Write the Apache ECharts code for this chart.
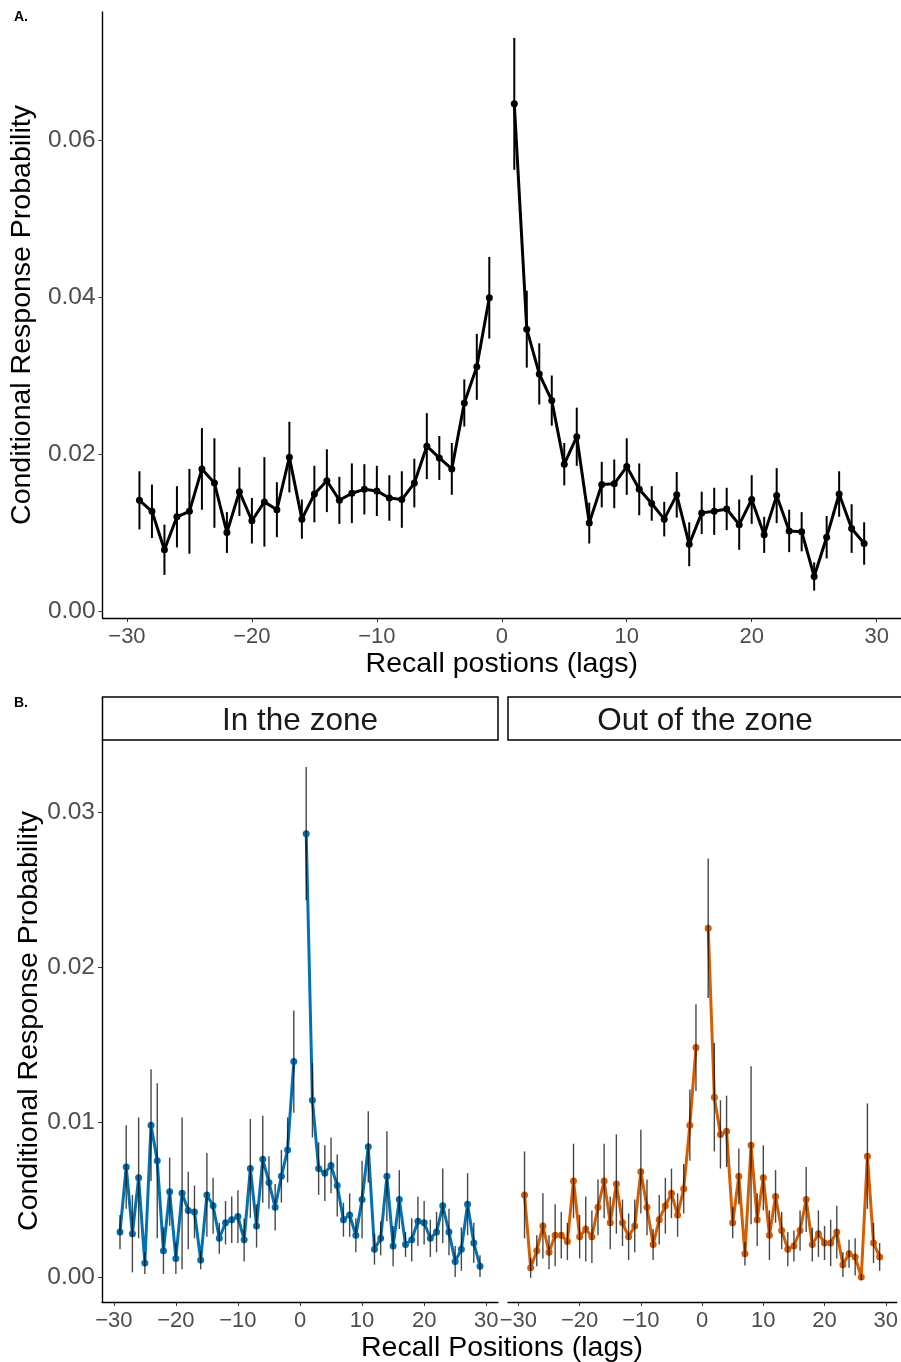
<!DOCTYPE html>
<html><head><meta charset="utf-8">
<script src="https://cdn.jsdelivr.net/npm/echarts@6/dist/echarts.min.js"></script>
<style>html,body{margin:0;padding:0;background:#fff}#c{width:901px;height:1362px}</style>
</head><body><div id="c"></div>
<script>
// ---- data ----
const lags = [-29,-28,-27,-26,-25,-24,-23,-22,-21,-20,-19,-18,-17,-16,-15,-14,-13,-12,-11,-10,-9,-8,-7,-6,-5,-4,-3,-2,-1,0,1,2,3,4,5,6,7,8,9,10,11,12,13,14,15,16,17,18,19,20,21,22,23,24,25,26,27,28,29];
const xTicks = [-30,-20,-10,0,10,20,30];
const yTicksA = [0,0.02,0.04,0.06];
const yTicksB = [0,0.01,0.02,0.03];

// Panel A: all trials
const crpAll = [0.0141,0.0127,0.0078,0.0120,0.0127,0.0181,0.0163,0.0100,0.0152,0.0115,0.0139,0.0129,0.0196,0.0117,0.0149,0.0166,0.0141,0.0150,0.0155,0.0153,0.0144,0.0142,0.0163,0.0210,0.0195,0.0181,0.0265,0.0311,0.0399,null,0.0646,0.0359,0.0302,0.0268,0.0187,0.0222,0.0112,0.0161,0.0162,0.0184,0.0155,0.0137,0.0117,0.0148,0.0085,0.0125,0.0127,0.0130,0.0110,0.0142,0.0097,0.0147,0.0102,0.0101,0.0044,0.0094,0.0149,0.0105,0.0086];
const seAll = [0.0037,0.0034,0.0032,0.0039,0.0054,0.0052,0.0057,0.0026,0.0031,0.0029,0.0057,0.0035,0.0045,0.0025,0.0036,0.0040,0.0030,0.0038,0.0032,0.0032,0.0029,0.0036,0.0031,0.0042,0.0028,0.0033,0.0030,0.0042,0.0052,null,0.0084,0.0049,0.0039,0.0032,0.0027,0.0037,0.0026,0.0029,0.0031,0.0036,0.0033,0.0022,0.0022,0.0029,0.0028,0.0027,0.0030,0.0027,0.0032,0.0031,0.0023,0.0035,0.0027,0.0025,0.0018,0.0027,0.0029,0.0031,0.0027];

// Panel B: in the zone
const crpIn = [0.0029,0.0071,0.0028,0.0064,0.0009,0.0098,0.0075,0.0017,0.0055,0.0012,0.0054,0.0043,0.0042,0.0011,0.0053,0.0046,0.0025,0.0035,0.0037,0.0039,0.0024,0.0070,0.0033,0.0076,0.0061,0.0045,0.0065,0.0082,0.0139,null,0.0286,0.0114,0.0070,0.0067,0.0072,0.0059,0.0037,0.0040,0.0027,0.0050,0.0084,0.0018,0.0025,0.0065,0.0020,0.0050,0.0021,0.0024,0.0036,0.0035,0.0025,0.0029,0.0046,0.0029,0.0010,0.0018,0.0047,0.0022,0.0007];
const seIn = [0.0011,0.0027,0.0025,0.0039,0.0007,0.0036,0.0050,0.0015,0.0022,0.0010,0.0049,0.0025,0.0017,0.0006,0.0027,0.0018,0.0010,0.0014,0.0015,0.0017,0.0014,0.0032,0.0014,0.0028,0.0017,0.0015,0.0017,0.0021,0.0033,null,0.0043,0.0024,0.0017,0.0018,0.0018,0.0020,0.0011,0.0014,0.0011,0.0025,0.0023,0.0010,0.0011,0.0029,0.0013,0.0019,0.0008,0.0014,0.0016,0.0014,0.0012,0.0013,0.0024,0.0015,0.0010,0.0014,0.0020,0.0013,0.0007];

// Panel B: out of the zone
const crpOut = [0.0053,0.0006,0.0017,0.0033,0.0016,0.0027,0.0027,0.0023,0.0062,0.0026,0.0031,0.0026,0.0045,0.0062,0.0035,0.0060,0.0035,0.0026,0.0033,0.0068,0.0045,0.0021,0.0037,0.0046,0.0054,0.0040,0.0057,0.0098,0.0148,null,0.0225,0.0116,0.0092,0.0094,0.0035,0.0065,0.0015,0.0085,0.0037,0.0064,0.0027,0.0052,0.0030,0.0018,0.0020,0.0030,0.0050,0.0021,0.0028,0.0022,0.0022,0.0029,0.0008,0.0015,0.0013,0.0000,0.0078,0.0022,0.0013];
const seOut = [0.0028,0.00065,0.0010,0.0021,0.0011,0.0020,0.0015,0.0012,0.0024,0.0014,0.0021,0.0017,0.0018,0.0024,0.0017,0.0032,0.0015,0.0015,0.0017,0.0027,0.0018,0.0010,0.0016,0.0018,0.0016,0.0014,0.0016,0.0023,0.0028,null,0.0045,0.0035,0.0022,0.0023,0.0010,0.0018,0.00075,0.0051,0.0017,0.0021,0.0016,0.0017,0.0012,0.0011,0.0010,0.0013,0.0021,0.0011,0.0015,0.0011,0.0015,0.0017,0.0008,0.0009,0.0012,0.0002,0.0034,0.0013,0.0009];

// ---- helpers ----
const FONT = '"Liberation Sans", Arial, Helvetica, sans-serif';
const lineData = (vals) => lags.map((l, i) => [l, vals[i]]);
const errData = (vals, se) => lags.map((l, i) => vals[i] == null ? null : [l, vals[i] - se[i], vals[i] + se[i]]).filter(d => d);
const fmtX = v => v < 0 ? '\u2212' + Math.abs(v) : String(v);
const fmtY = v => v.toFixed(2);

function errRender(color, width) {
  return function (params, api) {
    const x = api.value(0), lo = api.value(1), hi = api.value(2);
    const p1 = api.coord([x, lo]), p2 = api.coord([x, hi]);
    return { type: 'line', shape: { x1: p1[0], y1: p1[1], x2: p2[0], y2: p2[1] },
      style: { stroke: color, lineWidth: width } };
  };
}

function xAxis(grid, min, max) {
  return {
    type: 'value', gridIndex: grid, min: min, max: max,
    axisLine: { show: true, onZero: false, lineStyle: { color: '#000', width: 1.4 } },
    axisTick: { show: true, length: 4, lineStyle: { color: '#333', width: 1 }, customValues: xTicks },
    axisLabel: { color: '#4D4D4D', fontSize: 22, fontFamily: FONT, margin: 8, formatter: fmtX, customValues: xTicks },
    splitLine: { show: false }
  };
}
function yAxis(grid, min, max, ticks, name, showAxis) {
  return {
    type: 'value', gridIndex: grid, min: min, max: max,
    name: name, nameLocation: 'middle', nameGap: 58, nameRotate: 90,
    nameTextStyle: { color: '#000', fontSize: 28.5, fontFamily: FONT },
    axisLine: { show: showAxis, onZero: false, lineStyle: { color: '#000', width: 1.4 } },
    axisTick: { show: showAxis, length: 4, lineStyle: { color: '#333', width: 1 }, customValues: ticks },
    axisLabel: { show: showAxis, color: '#4D4D4D', fontSize: 24.5, fontFamily: FONT, margin: 7, formatter: fmtY, customValues: ticks },
    splitLine: { show: false }
  };
}

const chart = echarts.init(document.getElementById('c'), null, { renderer: 'canvas' });
const BLUE = '#0072B2', ORANGE = '#D55E00';

const option = {
  backgroundColor: '#fff',
  animation: false,
  grid: [
    { left: 102, top: 12, width: 800, height: 606 },
    { left: 102, top: 740, width: 396, height: 562 },
    { left: 508, top: 740, width: 395, height: 562 }
  ],
  xAxis: [
    Object.assign(xAxis(0, -31.95, 31.95), { name: 'Recall postions (lags)', nameLocation: 'middle', nameGap: 32,
      nameTextStyle: { color: '#000', fontSize: 28.5, fontFamily: FONT } }),
    xAxis(1, -31.9, 31.9),
    xAxis(2, -31.7, 31.8)
  ],
  yAxis: [
    yAxis(0, -0.00089, 0.0763, yTicksA, 'Conditional Response Probability', true),
    yAxis(1, -0.00161, 0.034645, yTicksB, 'Conditional Response Probability', true),
    Object.assign(yAxis(2, -0.00161, 0.034645, yTicksB, '', false), { name: '' })
  ],
  series: [
    { type: 'line', xAxisIndex: 0, yAxisIndex: 0, data: lineData(crpAll), connectNulls: false,
      symbol: 'circle', symbolSize: 7, itemStyle: { color: '#000' }, lineStyle: { color: '#000', width: 3 }, z: 2 },
    { type: 'custom', xAxisIndex: 0, yAxisIndex: 0, data: errData(crpAll, seAll), encode: { x: 0, y: [1, 2] },
      renderItem: errRender('#000', 2), z: 3 },
    { type: 'line', xAxisIndex: 1, yAxisIndex: 1, data: lineData(crpIn), connectNulls: false,
      symbol: 'circle', symbolSize: 7, itemStyle: { color: BLUE }, lineStyle: { color: BLUE, width: 3 }, z: 2 },
    { type: 'custom', xAxisIndex: 1, yAxisIndex: 1, data: errData(crpIn, seIn), encode: { x: 0, y: [1, 2] },
      renderItem: errRender('rgba(0,0,0,0.72)', 1.4), z: 3 },
    { type: 'line', xAxisIndex: 2, yAxisIndex: 2, data: lineData(crpOut), connectNulls: false,
      symbol: 'circle', symbolSize: 7, itemStyle: { color: ORANGE }, lineStyle: { color: ORANGE, width: 3 }, z: 2 },
    { type: 'custom', xAxisIndex: 2, yAxisIndex: 2, data: errData(crpOut, seOut), encode: { x: 0, y: [1, 2] },
      renderItem: errRender('rgba(0,0,0,0.72)', 1.4), z: 3 }
  ],
  graphic: [
    { type: 'text', left: 14, top: 10, style: { text: 'A.', font: 'bold 14px ' + FONT, fill: '#000' } },
    { type: 'text', left: 14, top: 696, style: { text: 'B.', font: 'bold 14px ' + FONT, fill: '#000' } },
    { type: 'rect', shape: { x: 102.5, y: 697, width: 395.5, height: 43 }, style: { fill: '#fff', stroke: '#000', lineWidth: 1.5 } },
    { type: 'rect', shape: { x: 508, y: 697, width: 396, height: 43 }, style: { fill: '#fff', stroke: '#000', lineWidth: 1.5 } },
    { type: 'text', x: 300, y: 721, style: { text: 'In the zone', font: '31.5px ' + FONT, fill: '#1A1A1A', textAlign: 'center', textVerticalAlign: 'middle' } },
    { type: 'text', x: 705, y: 721, style: { text: 'Out of the zone', font: '31.5px ' + FONT, fill: '#1A1A1A', textAlign: 'center', textVerticalAlign: 'middle' } },
    { type: 'text', x: 502, y: 1348, style: { text: 'Recall Positions (lags)', font: '28.5px ' + FONT, fill: '#000', textAlign: 'center', textVerticalAlign: 'middle' } }
  ]
};
chart.setOption(option);
</script>
</body></html>
